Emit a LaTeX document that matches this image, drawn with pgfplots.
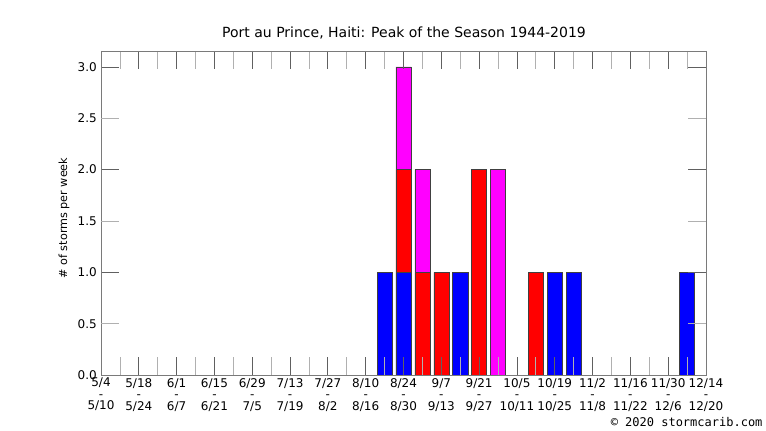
\documentclass[border=0pt]{standalone}
\usepackage{pgfplots}
\pgfplotsset{compat=1.18}
\usepackage{pgfplotstable}
\usepackage{fontspec}
\setmainfont{DejaVu Sans}
\setmonofont{DejaVu Sans Mono}
\definecolor{frame}{HTML}{7A7A7A}
\definecolor{tickdark}{HTML}{606060}
\definecolor{ticklight}{HTML}{B0B0B0}
\pgfplotstableread{
w blue red mag
15 1 0 0
16 1 1 1
17 0 1 1
18 0 1 0
19 1 0 0
20 0 2 0
21 0 0 2
23 0 1 0
24 1 0 0
25 1 0 0
31 1 0 0
}\data
\begin{document}
\begin{tikzpicture}[x=1pt,y=1pt]
\path[use as bounding box] (0,0) rectangle (766,431);
\begin{axis}[
  at={(101pt,56pt)}, anchor=south west,
  scale only axis, width=605pt, height=324pt,
  xmin=0, xmax=32, ymin=0, ymax=3.155,
  ybar stacked, bar width=0.8,
  axis line style={frame, line width=0.8pt},
  axis on top,
  tick align=inside,
  major tick length=18pt, minor tick length=18pt,
  major tick style={tickdark, line width=0.8pt},
  minor tick style={ticklight, line width=0.8pt},
  xtick={0,2,...,32},
  minor xtick={1,3,...,31},
  xticklabels={{5/4\\-\\5/10},{5/18\\-\\5/24},{6/1\\-\\6/7},{6/15\\-\\6/21},{6/29\\-\\7/5},{7/13\\-\\7/19},{7/27\\-\\8/2},{8/10\\-\\8/16},{8/24\\-\\8/30},{9/7\\-\\9/13},{9/21\\-\\9/27},{10/5\\-\\10/11},{10/19\\-\\10/25},{11/2\\-\\11/8},{11/16\\-\\11/22},{11/30\\-\\12/6},{12/14\\-\\12/20}},
  xticklabel style={align=center, inner sep=0pt, yshift=-3pt, font=\fontsize{12}{11.5}\selectfont, text=black},
  ytick={0,1,2,3},
  yticklabels={0.0,1.0,2.0,3.0},
  extra y ticks={0.5,1.5,2.5},
  extra y tick labels={0.5,1.5,2.5},
  extra y tick style={major tick style={ticklight, line width=0.8pt}},
  yticklabel style={inner sep=0pt, xshift=-4pt, font=\fontsize{12}{14}\selectfont, text=black},
]
\addplot[fill={rgb,255:red,0;green,0;blue,255}, draw=black!75, line width=0.5pt] table[x=w,y=blue]{\data};
\addplot[fill={rgb,255:red,255;green,0;blue,0}, draw=black!75, line width=0.5pt] table[x=w,y=red]{\data};
\addplot[fill={rgb,255:red,255;green,0;blue,255}, draw=black!75, line width=0.5pt] table[x=w,y=mag]{\data};
\end{axis}
\node[anchor=base, font=\fontsize{14}{16}\selectfont] at (404,393) {Port au Prince, Haiti: Peak of the Season 1944-2019};
\node[rotate=90, anchor=center, font=\fontsize{11.2}{13}\selectfont] at (64,213) {\# of storms per week};
\node[anchor=base east, font=\ttfamily\fontsize{12}{14}\selectfont] at (766,4) {\textcopyright{} 2020 stormcarib.com};
\end{tikzpicture}
\end{document}
